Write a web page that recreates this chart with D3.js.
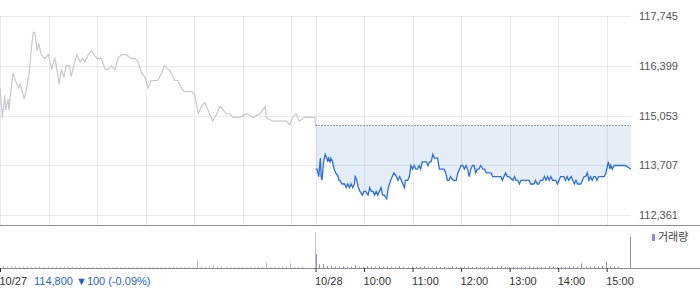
<!DOCTYPE html>
<html>
<head>
<meta charset="utf-8">
<script src="https://cdn.jsdelivr.net/npm/d3@7"></script>
<style>
  body { margin: 0; background: #fff; }
  svg { display: block; font-family: "Liberation Sans", Arial, sans-serif; }
</style>
</head>
<body>
<div id="chart"></div>
<script>
// price ticks on the right
var priceTicks = [112361, 113707, 115053, 116399, 117745];
var prevClose = 114800;

// 10/27 (previous day) intraday prices
var prevDay = [
  ["09:00",115800],["09:03",115000],["09:06",115600],["09:07",115200],["09:10",115500],["09:11",115200],
  ["09:16",116200],["09:19",116000],["09:23",115800],["09:25",115900],["09:30",115500],["09:33",115800],
  ["09:36",116200],["09:39",116900],["09:41",117300],["09:43",117300],["09:46",116800],["09:48",117000],
  ["09:51",116700],["09:55",116600],["10:00",116700],["10:02",116500],["10:04",116300],["10:06",116500],
  ["10:08",116600],["10:11",116200],["10:13",115900],["10:16",116300],["10:19",116100],["10:22",116400],
  ["10:26",116400],["10:28",116100],["10:31",116400],["10:35",116700],["10:39",116500],["10:42",116600],
  ["10:45",116500],["10:49",116700],["10:53",116800],["10:56",116700],["11:00",116600],["11:05",116600],
  ["11:10",116300],["11:14",116300],["11:18",116400],["11:22",116300],["11:26",116600],["11:30",116700],
  ["11:36",116700],["11:42",116600],["11:47",116600],["11:51",116500],["11:55",116200],["11:59",116100],
  ["12:03",115800],["12:07",116000],["12:11",116000],["12:15",116000],["12:20",116200],["12:23",116400],
  ["12:28",116300],["12:32",116200],["12:36",116000],["12:40",116000],["12:44",115800],["12:48",115700],
  ["12:52",115700],["12:57",115700],["13:01",115600],["13:05",115100],["13:09",115300],["13:13",115400],
  ["13:17",115200],["13:21",115000],["13:23",114900],["13:28",115100],["13:32",115300],["13:36",115200],
  ["13:40",115100],["13:44",115100],["13:48",115000],["13:56",115000],["14:05",115100],["14:13",115000],
  ["14:21",115100],["14:28",115300],["14:29",115000],["14:37",114900],["14:46",114900],["14:54",114900],
  ["14:58",114800],["15:02",115000],["15:06",115100],["15:10",114900],["15:16",115000],["15:20",115000],
  ["15:29",115000],["15:30",114800]
];

// 10/28 (today) intraday prices
var today = [
  ["09:00",113600],["09:02",113600],["09:03",113500],["09:04",113400],["09:06",113900],["09:07",113400],
  ["09:08",113300],["09:10",113800],["09:12",114000],["09:14",113900],["09:15",113800],["09:16",113900],
  ["09:18",113800],["09:19",113900],["09:21",113800],["09:22",113700],["09:23",113600],["09:25",113500],
  ["09:28",113400],["09:29",113300],["09:30",113300],["09:33",113200],["09:36",113200],["09:38",113100],
  ["09:40",113200],["09:42",113100],["09:44",113200],["09:46",113100],["09:48",113200],["09:49",113400],
  ["09:51",113300],["09:53",113100],["09:55",113000],["09:58",112900],["10:00",113000],["10:02",113000],
  ["10:05",112900],["10:07",113100],["10:09",113000],["10:11",113000],["10:13",112900],["10:15",113000],
  ["10:17",112900],["10:19",113000],["10:21",113100],["10:23",112900],["10:25",112900],["10:28",112800],
  ["10:30",113100],["10:33",113300],["10:35",113400],["10:37",113500],["10:40",113400],["10:42",113300],
  ["10:44",113400],["10:46",113300],["10:48",113200],["10:50",113100],["10:51",113300],["10:54",113300],
  ["10:56",113400],["10:58",113700],["11:00",113600],["11:02",113700],["11:04",113600],["11:06",113600],
  ["11:08",113700],["11:10",113600],["11:12",113800],["11:15",113800],["11:17",113800],["11:19",113700],
  ["11:21",113800],["11:23",113800],["11:25",114000],["11:27",113900],["11:29",113900],["11:31",113900],
  ["11:33",113600],["11:35",113600],["11:37",113600],["11:39",113600],["11:41",113500],["11:43",113300],
  ["11:45",113300],["11:47",113400],["11:50",113300],["11:52",113300],["11:54",113300],["11:56",113500],
  ["11:58",113600],["12:00",113700],["12:02",113700],["12:04",113600],["12:06",113700],["12:08",113600],
  ["12:10",113400],["12:12",113600],["12:14",113700],["12:16",113700],["12:18",113500],["12:20",113600],
  ["12:22",113600],["12:24",113700],["12:27",113600],["12:29",113600],["12:31",113500],["12:35",113500],
  ["12:37",113500],["12:39",113400],["12:43",113400],["12:47",113400],["12:49",113400],["12:51",113300],
  ["12:53",113400],["12:55",113500],["12:57",113400],["12:59",113400],["13:04",113300],["13:06",113400],
  ["13:08",113300],["13:10",113300],["13:12",113200],["13:14",113300],["13:16",113300],["13:18",113300],
  ["13:20",113300],["13:22",113300],["13:24",113300],["13:26",113200],["13:28",113200],["13:30",113200],
  ["13:32",113300],["13:34",113200],["13:36",113200],["13:38",113300],["13:41",113300],["13:43",113400],
  ["13:45",113300],["13:47",113400],["13:49",113300],["13:51",113400],["13:53",113300],["13:55",113300],
  ["13:57",113300],["13:59",113200],["14:01",113300],["14:03",113400],["14:05",113400],["14:07",113400],
  ["14:09",113300],["14:11",113400],["14:13",113300],["14:16",113400],["14:18",113300],["14:20",113200],
  ["14:22",113300],["14:24",113200],["14:26",113200],["14:28",113200],["14:30",113300],["14:32",113400],
  ["14:34",113400],["14:36",113500],["14:38",113300],["14:40",113400],["14:42",113300],["14:44",113400],
  ["14:46",113400],["14:48",113300],["14:50",113400],["14:53",113400],["14:55",113400],["14:57",113400],
  ["14:59",113500],["15:01",113700],["15:02",113800],["15:04",113600],["15:05",113700],["15:07",113600],
  ["15:09",113700],["15:11",113700],["15:13",113700],["15:15",113700],["15:19",113700],["15:23",113700],
  ["15:30",113600]
];

// volume in 5-minute slots, 09:00 .. 15:30
var prevVolume = [
  2600, 600, 500, 400, 600, 500, 400, 500, 300, 400, 500, 300, 400, 300, 400, 300, 300, 400, 300, 300,
  300, 300, 200, 300, 200, 300, 200, 300, 200, 300, 300, 200, 300, 200, 300, 200, 200, 300, 300, 200,
  300, 200, 300, 400, 300, 300, 300, 300, 400, 2200, 400, 300, 400, 1000, 500, 400, 300, 300, 200, 300,
  300, 200, 300, 300, 400, 300, 1800, 300, 300, 300, 400, 500, 1350, 300, 300, 400, 0, 0, 10500
];
var todayVolume = [
  4100, 1100, 1200, 600, 700, 500, 400, 500, 300, 400, 800, 400, 300, 500, 400, 300, 500, 300, 400, 300,
  300, 500, 300, 200, 400, 300, 300, 500, 300, 200, 400, 300, 300, 200, 500, 300, 200, 300, 400, 300,
  300, 200, 300, 300, 400, 300, 600, 300, 300, 400, 300, 400, 300, 500, 300, 400, 300, 300, 500, 400,
  300, 400, 300, 500, 400, 300, 1300, 400, 300, 500, 400, 600, 1900, 500, 400, 300, 0, 0, 9200
];

var timeLabels = ["10:00", "11:00", "12:00", "13:00", "14:00", "15:00"];

var width = 700, height = 289;
var plotRight = 631;

function mins(t) {
  var p = t.split(":");
  return (+p[0] - 9) * 60 + (+p[1]);
}

var svg = d3.select("#chart").append("svg")
  .attr("width", width)
  .attr("height", height);

// session minutes: 0..390 = 10/27, 390..780 = 10/28
var x = d3.scaleLinear().domain([0, 780]).range([0, plotRight]);
var y = d3.scaleLinear().domain([112361, 117745]).range([215, 16]);
var vy = d3.scaleLinear().domain([0, 12000]).range([268, 227]);

var prevData = prevDay.map(function(d) { return {m: mins(d[0]), v: d[1]}; });
var todayData = today.map(function(d) { return {m: 390 + mins(d[0]), v: d[1]}; });

// fill between previous close and today's line
svg.append("path")
  .datum(todayData)
  .attr("fill", "#e5edf9")
  .attr("d", d3.area()
    .x(function(d) { return x(d.m); })
    .y0(y(prevClose))
    .y1(function(d) { return y(d.v); }));

// grid
var vLines = [0, 60, 120, 180, 240, 300, 360, 390, 450, 510, 570, 630, 690, 750];
svg.append("g").selectAll("line")
  .data(vLines).enter().append("line")
  .attr("x1", function(d) { return Math.round(x(d)) + 0.5; })
  .attr("x2", function(d) { return Math.round(x(d)) + 0.5; })
  .attr("y1", y(117745))
  .attr("y2", 225)
  .attr("stroke", "rgba(0,0,0,0.08)");

svg.append("g").selectAll("line")
  .data(priceTicks).enter().append("line")
  .attr("x1", 0)
  .attr("x2", plotRight)
  .attr("y1", function(d) { return Math.round(y(d)) + 0.5; })
  .attr("y2", function(d) { return Math.round(y(d)) + 0.5; })
  .attr("stroke", "rgba(0,0,0,0.08)");

// previous close dotted line
svg.append("line")
  .attr("x1", x(390))
  .attr("x2", plotRight)
  .attr("y1", Math.round(y(prevClose)) + 0.5)
  .attr("y2", Math.round(y(prevClose)) + 0.5)
  .attr("stroke", "#555")
  .attr("stroke-dasharray", "1,2");

var line = d3.line()
  .x(function(d) { return x(d.m); })
  .y(function(d) { return y(d.v); });

svg.append("path")
  .datum(prevData)
  .attr("fill", "none")
  .attr("stroke", "#c6c9ce")
  .attr("stroke-width", 1.2)
  .attr("d", line);

svg.append("path")
  .datum(todayData)
  .attr("fill", "none")
  .attr("stroke", "#2b6fd9")
  .attr("stroke-width", 1.3)
  .attr("d", line);

// right price axis
var yAxis = svg.append("g")
  .attr("transform", "translate(" + plotRight + ",0)")
  .call(d3.axisRight(y).tickValues(priceTicks).tickSize(0).tickPadding(8).tickFormat(d3.format(",")));
yAxis.select(".domain").remove();
yAxis.selectAll("text")
  .attr("fill", "#555")
  .style("font-size", "11px");

// volume bars
var volBars = [];
prevVolume.forEach(function(v, i) { volBars.push({m: i * 5, v: v, c: "#c4c4c4"}); });
todayVolume.forEach(function(v, i) { volBars.push({m: 390 + i * 5, v: v, c: "#9a86cc"}); });
// today's opening bar sits just right of the day divider
svg.append("g").selectAll("rect")
  .data(volBars.filter(function(d) { return d.v > 0; }))
  .enter().append("rect")
  .attr("x", function(d) { return Math.round(x(d.m)) + (d.c === "#9a86cc" && d.m === 390 ? 1 : 0) - 1; })
  .attr("width", 1)
  .attr("y", function(d) { return vy(d.v); })
  .attr("height", function(d) { return vy(0) - vy(d.v); })
  .attr("fill", function(d) { return d.c; });

// panel borders
svg.append("line")
  .attr("x1", 0).attr("x2", width)
  .attr("y1", 225.5).attr("y2", 225.5)
  .attr("stroke", "#8e8e8e");
svg.append("line")
  .attr("x1", 0).attr("x2", width)
  .attr("y1", 268.5).attr("y2", 268.5)
  .attr("stroke", "#8e8e8e");

// bottom time axis
var tickMins = [0, 390, 450, 510, 570, 630, 690, 750];
var tickText = ["10/27", "10/28"].concat(timeLabels);
var xAxis = svg.append("g")
  .attr("transform", "translate(0,268)")
  .call(d3.axisBottom(x).tickValues(tickMins).tickSize(4)
    .tickFormat(function(d, i) { return tickText[i]; }));
xAxis.select(".domain").remove();
xAxis.selectAll(".tick line").attr("stroke", "#333");
xAxis.selectAll("text")
  .attr("text-anchor", "start")
  .attr("x", -1)
  .attr("y", 17)
  .attr("dy", 0)
  .attr("fill", "#333")
  .style("font-size", "11px");

// current price info next to the first date
svg.append("text")
  .attr("x", 34)
  .attr("y", 285)
  .attr("fill", "#1f66d1")
  .style("font-size", "11px")
  .text("114,800 \u25BC100 (-0.09%)");

// volume legend
svg.append("rect")
  .attr("x", 652).attr("y", 234)
  .attr("width", 3).attr("height", 7)
  .attr("fill", "#9a86cc");
svg.append("text")
  .attr("x", 658).attr("y", 241)
  .attr("fill", "#444")
  .style("font-size", "11px")
  .style("font-family", "'Noto Sans CJK KR', sans-serif")
  .text("거래량");
</script>
</body>
</html>
